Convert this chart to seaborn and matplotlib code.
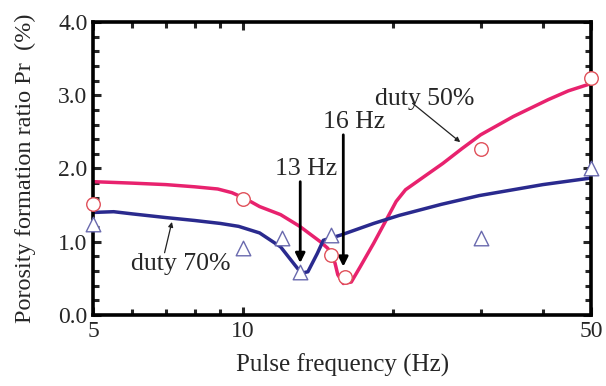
import numpy as np
import pandas as pd
import matplotlib
matplotlib.use("Agg")
import matplotlib.pyplot as plt
import seaborn as sns
from matplotlib.ticker import FixedLocator, MultipleLocator, NullFormatter, FormatStrFormatter

# measured points
freq_50 = [5, 10, 15, 16, 30, 50]
pr_50 = [1.51, 1.58, 0.82, 0.52, 2.27, 3.24]
freq_70 = [5, 10, 12, 13, 15, 30, 50]
pr_70 = [1.24, 0.91, 1.05, 0.59, 1.09, 1.05, 2.00]

# fitted curves
curve_x_50 = [5, 6, 7, 8, 8.9, 9.5, 10.1, 10.8, 11.9, 13.0, 14.3, 14.8, 15.3, 15.5, 15.9, 16.5,
              17.2, 18.3, 19.4, 20.3, 21.2, 23, 25.2, 27.5, 30, 34.9, 41, 45, 50]
curve_y_50 = [1.82, 1.80, 1.78, 1.75, 1.72, 1.67, 1.59, 1.48, 1.37, 1.21, 1.00, 0.91, 0.71, 0.55,
              0.43, 0.45, 0.66, 0.98, 1.30, 1.55, 1.71, 1.88, 2.07, 2.27, 2.46, 2.71, 2.94,
              3.06, 3.16]
curve_x_70 = [5, 5.5, 6, 7, 8, 9, 9.8, 10.8, 11.9, 12.65, 13.1, 13.5, 14.1, 14.5, 15.7,
              18.3, 20.6, 25, 29.8, 40, 50]
curve_y_70 = [1.40, 1.41, 1.38, 1.33, 1.29, 1.25, 1.21, 1.12, 0.93, 0.70, 0.57, 0.59, 0.84,
              1.02, 1.09, 1.25, 1.36, 1.51, 1.63, 1.78, 1.87]

pink = "#e8226e"
navy = "#2a2a8e"

sns.set_style("ticks")
plt.rcParams["font.family"] = ["Liberation Serif", "DejaVu Serif"]

fig = plt.figure(figsize=(6.06, 3.86), dpi=100)
ax = fig.add_axes([0.1535, 0.184, 0.822, 0.759])

c50 = pd.DataFrame({"f": curve_x_50, "pr": curve_y_50})
c70 = pd.DataFrame({"f": curve_x_70, "pr": curve_y_70})
sns.lineplot(data=c50, x="f", y="pr", color=pink, lw=2.5, ax=ax, sort=False)
sns.lineplot(data=c70, x="f", y="pr", color=navy, lw=2.5, ax=ax, sort=False)

sns.scatterplot(x=freq_50, y=pr_50, marker="o", s=95, facecolor="white",
                edgecolor="#e0505a", linewidth=1.0, ax=ax, zorder=5, clip_on=False)
sns.scatterplot(x=freq_70, y=pr_70, marker="^", s=110, facecolor="white",
                edgecolor="#6a6aae", linewidth=1.0, ax=ax, zorder=5, clip_on=False)

ax.set_xscale("log")
ax.set_xlim(5, 50)
ax.set_ylim(0, 4.0)
ax.xaxis.set_major_locator(FixedLocator([5, 10, 50]))
ax.xaxis.set_minor_locator(FixedLocator([6, 7, 8, 9, 20, 30, 40]))
ax.xaxis.set_minor_formatter(NullFormatter())
ax.set_xticklabels(["5", "10", "50"])
ax.yaxis.set_major_locator(MultipleLocator(1.0))
ax.yaxis.set_minor_locator(MultipleLocator(0.2))
ax.yaxis.set_major_formatter(FormatStrFormatter("%.1f"))

ax.tick_params(which="both", direction="in", top=True, right=True, width=2.2)
ax.tick_params(which="major", length=6, labelsize=17, pad=4)
ax.tick_params(which="minor", length=4)
for sp in ax.spines.values():
    sp.set_linewidth(2.6)
    sp.set_color("black")

ax.set_xlabel("Pulse frequency (Hz)", fontsize=18, labelpad=9)
ax.set_ylabel("Porosity formation ratio Pr  (%)", fontsize=17.5, labelpad=16)

thin = dict(arrowstyle="-|>", lw=0.9, color="#222222", mutation_scale=7,
            shrinkA=0, shrinkB=0)
bold = dict(arrowstyle="-|>", lw=2.0, color="black", mutation_scale=14,
            shrinkA=0, shrinkB=0)

# annotations
ax.text(23.2, 2.87, "duty 50%", fontsize=18.5, ha="center", va="baseline")
ax.annotate("", xy=(27.3, 2.36), xytext=(21.9, 2.89), arrowprops=thin)
ax.text(7.5, 0.61, "duty 70%", fontsize=18.5, ha="center", va="baseline")
ax.annotate("", xy=(7.2, 1.27), xytext=(6.96, 0.85), arrowprops=thin)
ax.text(16.7, 2.55, "16 Hz", fontsize=18.5, ha="center", va="baseline")
ax.annotate("", xy=(15.9, 0.66), xytext=(15.9, 2.46), arrowprops=bold)
ax.text(13.4, 1.91, "13 Hz", fontsize=18.5, ha="center", va="baseline")
ax.annotate("", xy=(13.03, 0.71), xytext=(13.03, 1.82), arrowprops=bold)

fig.savefig("out.png", dpi=100)
